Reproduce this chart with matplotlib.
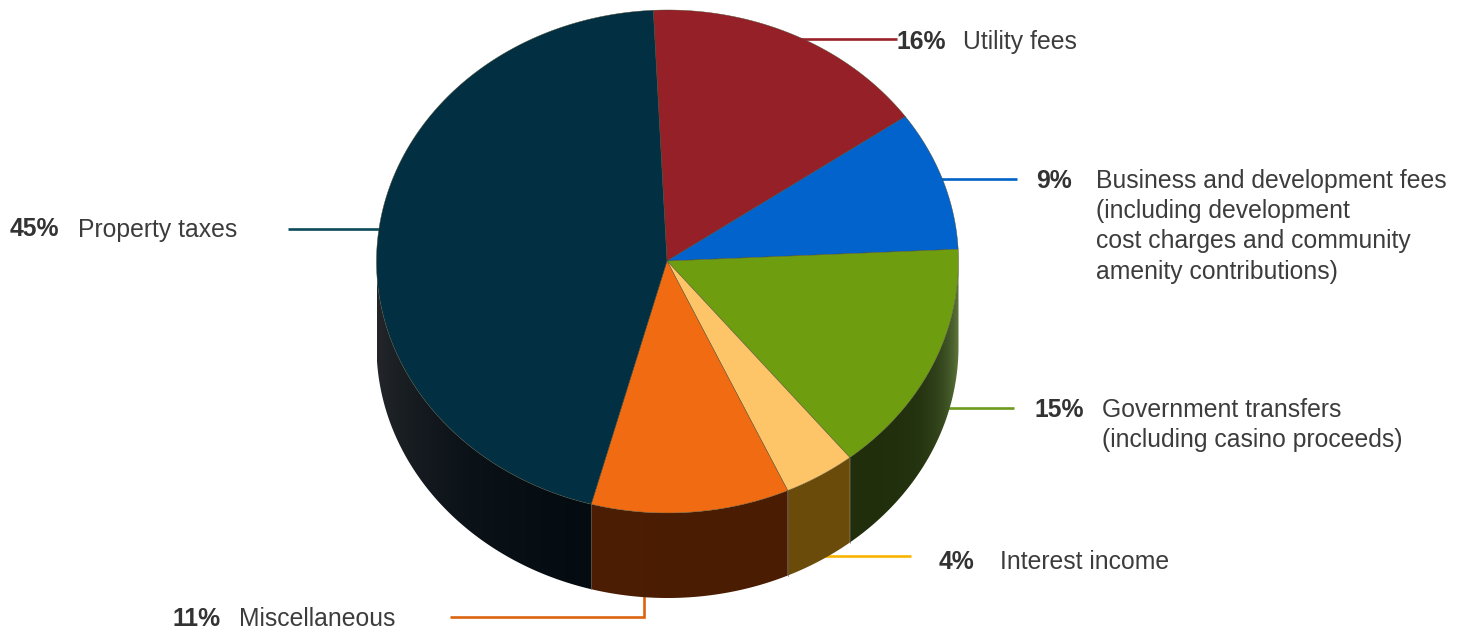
import numpy as np
import matplotlib
matplotlib.use("Agg")
import matplotlib.pyplot as plt
from matplotlib.patches import Polygon

plt.rcParams['font.family'] = ['Liberation Sans', 'DejaVu Sans']

# Revenue sources, clockwise from the top of the pie
shares = [16, 9, 15, 4, 11, 45]
percent_labels = ["16%", "9%", "15%", "4%", "11%", "45%"]
source_labels = [
    "Utility fees",
    "Business and development fees\n(including development\ncost charges and community\namenity contributions)",
    "Government transfers\n(including casino proceeds)",
    "Interest income",
    "Miscellaneous",
    "Property taxes",
]

top_colors = ["#952027", "#0263CC", "#6F9D10", "#FEC568", "#F06B11", "#023042"]
wall_colors = [(60, 12, 16), (0, 30, 70), (32, 46, 12), (106, 75, 10), (74, 28, 2), (2, 10, 16)]
line_colors = ["#9B2229", "#0062C4", "#6E9A1E", "#F8B500", "#DC6410", "#0B4A5A"]

# Pie geometry in figure pixels
CX, CY, RX, RY, DEPTH = 667.5, 261.5, 291.0, 251.5, 85.0
START_ANGLE = 92.8

# Leader lines and text anchors, same order as the shares
leaders = [
    [(790, 39), (897, 39)],
    [(935, 179), (1017, 179)],
    [(940, 408), (1014, 408)],
    [(815, 556), (911, 556)],
    [(450, 617), (644, 617), (644, 590)],
    [(288, 229), (390, 229)],
]
pct_pos = [(897, 39.5), (1036, 178.5), (1035, 407.5), (939, 559.5), (172, 616), (10, 227)]
txt_pos = [(963, 40), (1096, 178.5), (1102, 407.5), (1000, 559.5), (239, 616), (78, 227)]

W, H = 1465, 628
fig = plt.figure(figsize=(W / 100, H / 100), dpi=100)
ax = fig.add_axes([0, 0, 1, 1])
ax.axis("off")


def rim(theta_deg, drop=0.0):
    t = np.radians(theta_deg)
    return CX + RX * np.cos(t), CY - RY * np.sin(t) + drop


def wall_ramp(base):
    # Horizontal ramp: sheen fades inward from the two outer edges of the cylinder
    x = np.linspace(CX - RX, CX + RX, 1200)
    left = np.exp(-(x - (CX - RX)) / 80.0)[:, None]
    right = np.exp(-((CX + RX) - x) / 17.0)[:, None]
    rgb = np.array(base) + np.array([32, 28, 26]) * left + np.array([62, 74, 50]) * right
    return np.clip(rgb / 255.0, 0, 1)[None, :, :]


for pts, color in zip(leaders, line_colors):
    xs, ys = zip(*pts)
    ax.plot(xs, ys, color=color, lw=1.9, solid_joinstyle="miter", solid_capstyle="butt", zorder=1)

spans = 360.0 * np.array(shares) / sum(shares)
ends = START_ANGLE - np.cumsum(spans)
starts = ends + spans

# Side wall: one shaded ramp per slice, clipped to the visible front of its rim
for a0, a1, base in zip(starts, ends, wall_colors):
    grid = np.linspace(a0, a1, 800)
    grid = grid[np.sin(np.radians(grid)) <= 0]
    if grid.size < 2:
        continue
    xu, yu = rim(grid)
    xl, yl = rim(grid, DEPTH)
    outline = np.c_[np.r_[xu, xl[::-1]], np.r_[yu, yl[::-1]]]
    clip = Polygon(outline, closed=True, transform=ax.transData, facecolor="none", edgecolor="none")
    ax.add_patch(clip)
    im = ax.imshow(wall_ramp(base), extent=(CX - RX, CX + RX, CY + RY + DEPTH, CY - RY),
                   aspect="auto", interpolation="bilinear", zorder=2)
    im.set_clip_path(clip)
    if np.sin(np.radians(a1)) < 0:
        xe, ye = rim(a1)
        ax.plot([xe, xe], [ye, ye + DEPTH], color="#5a5a50", lw=0.4, zorder=3)

# Top face of the pie
for a0, a1, color in zip(starts, ends, top_colors):
    xs, ys = rim(np.linspace(a0, a1, 300))
    ax.fill(np.r_[CX - 0.5, xs], np.r_[CY - 0.5, ys], facecolor=color, edgecolor="#4a4a30", lw=0.3, zorder=4)

for (px, py), (tx, ty), pct, label in zip(pct_pos, txt_pos, percent_labels, source_labels):
    ax.text(px, py, pct, fontsize=17.8, fontweight="bold", color="#333333", ha="left", va="center_baseline", zorder=5)
    for i, line in enumerate(label.split("\n")):
        ax.text(tx, ty + i * 30.2, line, fontsize=17.85, color="#3c3c3c", ha="left", va="center_baseline", zorder=5)

ax.set_xlim(0, W)
ax.set_ylim(H, 0)

fig.savefig("out.png", dpi=100, facecolor="white")
